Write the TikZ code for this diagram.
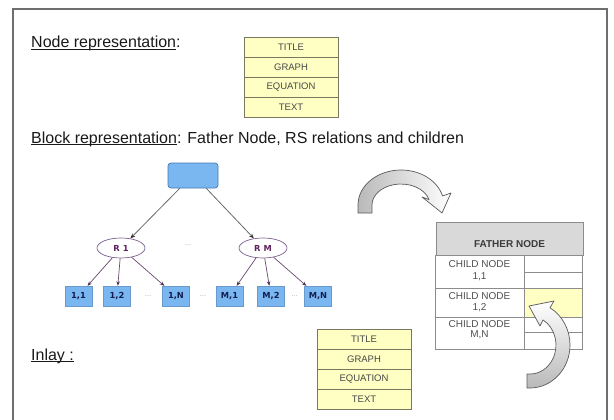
\documentclass[tikz,border=0pt]{standalone}
\usepackage{fontspec}
\setmainfont{Liberation Sans}
\newfontfamily\treefont{DejaVu Sans}
\usetikzlibrary{shapes.geometric,arrows.meta}

\definecolor{framegray}{RGB}{110,110,110}
\definecolor{inktext}{RGB}{25,25,25}
\definecolor{paleyellow}{RGB}{255,255,196}
\definecolor{yellowedge}{RGB}{120,120,95}
\definecolor{boxblue}{RGB}{122,182,240}
\definecolor{boxedge}{RGB}{70,120,180}
\definecolor{relpurple}{RGB}{125,95,145}
\definecolor{reltext}{RGB}{95,35,95}
\definecolor{leafink}{RGB}{20,30,80}
\definecolor{edgegray}{RGB}{105,105,105}
\definecolor{edgepurple}{RGB}{105,70,110}
\definecolor{tablegray}{RGB}{140,140,140}
\definecolor{headgray}{RGB}{217,217,217}
\definecolor{celltext}{RGB}{80,80,80}
\definecolor{bendfill}{RGB}{185,185,185}
\definecolor{bendedge}{RGB}{90,90,90}

\newcommand{\fsz}[2]{\fontsize{#1}{#2}\selectfont}
% underline drawn just below the baseline
\newcommand{\ulin}[1]{\setbox0\hbox{#1}\rlap{\raisebox{-2pt}{\rule{\wd0}{0.9pt}}}\box0}

\begin{document}
\begin{tikzpicture}[x=1pt,y=-1pt,
  heading/.style={anchor=base west,inner sep=0pt,text=inktext,font=\fsz{16}{19}},
  layer/.style={draw=yellowedge,line width=0.8pt,fill=paleyellow,minimum width=94pt,
    minimum height=20pt,inner sep=0pt,text=inktext!80,font=\fsz{9.5}{11}},
  father/.style={draw=boxedge,fill=boxblue,rounded corners=3pt,minimum width=50pt,
    minimum height=25pt,inner sep=0pt,line width=0.7pt},
  relation/.style={ellipse,draw=relpurple,fill=white,minimum width=48pt,minimum height=20pt,
    inner sep=0pt,line width=0.7pt,text=reltext,font=\treefont\bfseries\fsz{8.3}{10}},
  leaf/.style={draw=boxblue!85!black,fill=boxblue,minimum width=27pt,minimum height=20pt,
    inner sep=0pt,line width=0.4pt,text=leafink,font=\treefont\bfseries\fsz{8.3}{10}},
  gap/.style={text=gray!70,font=\fsz{7.5}{8},inner sep=0pt},
  toplink/.style={draw=edgegray,line width=0.8pt,-{Stealth[length=5pt,width=4pt,black!80]}},
  leaflink/.style={draw=edgepurple,line width=0.7pt,-{Stealth[length=4.5pt,width=3.5pt,edgepurple!70!black]}},
  cell/.style={draw=tablegray,line width=0.7pt,fill=white,inner sep=0pt},
  celltxt/.style={inner sep=0pt,align=center,text=celltext,font=\fsz{10}{11.7}},
  bandarrow/.style={draw=bendedge,line width=0.7pt,line join=round}
]
\useasboundingbox (0,0) rectangle (614,420);

% outer frame
\draw[framegray,line width=1.4pt] (13,420) -- (13,9) -- (607,9) -- (607,420);

% section headings
\node[heading] (hnode) at (31,48) {\ulin{Node representation}:};
\node[heading] (hblock) at (31,143) {\ulin{Block representation}: Father Node, RS relations and children};
\node[heading] (hinlay) at (31,360) {\ulin{Inlay :}};

% node representation
\node[layer] (ntitle) at (291,47) {TITLE};
\node[layer] (ngraph) at (291,67) {GRAPH};
\node[layer] (neq)    at (291,87) {EQUATION};
\node[layer] (ntext)  at (291,107) {TEXT};

% block tree
\node[father] (root) at (193,175.5) {};
\node[relation] (r1) at (121,248) {R 1};
\node[relation] (rm) at (263,248) {R M};
\node[gap] (dr) at (188,245) {...};

\node[leaf] (c11) at (78.5,296) {1,1};
\node[leaf] (c12) at (117,296) {1,2};
\node[leaf] (c1n) at (176,296) {1,N};
\node[leaf] (cm1) at (229.5,296) {M,1};
\node[leaf] (cm2) at (271,296) {M,2};
\node[leaf] (cmn) at (318,296) {M,N};
\node[gap] (d1) at (148,296) {...};
\node[gap] (d2) at (203,296) {...};
\node[gap] (d3) at (294.5,296) {...};

\draw[toplink] (root.224) -- (r1);
\draw[toplink] (root.316) -- (rm);
\foreach \c in {c11,c12,c1n} \draw[leaflink] (r1) -- (\c);
\foreach \c in {cm1,cm2,cmn} \draw[leaflink] (rm) -- (\c);

% father node table
\node[cell,fill=headgray,minimum width=147pt,minimum height=33pt] (fhead) at (509.5,238.5) {};
\node[celltxt,font=\bfseries\fsz{10}{12},text=inktext!85] (fheadtxt) at (509.5,244) {FATHER NODE};
\node[cell,minimum width=89pt,minimum height=33pt] (ch1) at (479.5,271.5) {};
\node[cell,minimum width=89pt,minimum height=29pt] (ch2) at (479.5,302.5) {};
\node[cell,minimum width=89pt,minimum height=32pt] (ch3) at (479.5,333) {};
\node[celltxt] (ch1txt) at (479.5,270.5) {CHILD NODE\\1,1};
\node[celltxt] (ch2txt) at (479.5,302) {CHILD NODE\\1,2};
\node[celltxt,font=\fsz{10}{10}] (ch3txt) at (479.5,329.5) {CHILD NODE\\M,N};
\node[cell,minimum width=58pt,minimum height=17pt] (s1a) at (553,263.5) {};
\node[cell,minimum width=58pt,minimum height=16pt] (s1b) at (553,280) {};
\node[cell,fill=paleyellow,minimum width=58pt,minimum height=29pt] (s2) at (553,302.5) {};
\node[cell,minimum width=58pt,minimum height=15pt] (s3a) at (553,324.5) {};
\node[cell,minimum width=58pt,minimum height=17pt] (s3b) at (553,340.5) {};

% inlay
\node[layer] (ititle) at (364,339) {TITLE};
\node[layer] (igraph) at (364,359) {GRAPH};
\node[layer] (ieq)    at (364,379) {EQUATION};
\node[layer] (itext)  at (364,399) {TEXT};

% curved block arrow from the tree to the table
\path[bandarrow,left color=bendfill,right color=white]
  (358,213) -- (358,205) arc[start angle=180,end angle=345,x radius=43,y radius=35]
  -- (451,193) -- (442,213) -- (422,197) -- (429,199.6)
  arc[start angle=345,end angle=180,x radius=29,y radius=21] -- (372,213) -- cycle;

% curved block arrow into the table cell
\path[bandarrow,top color=white,bottom color=bendfill]
  (527,388) -- (530,388) arc[start angle=90,end angle=-60,x radius=40,y radius=43]
  -- (554,301) -- (529,306) -- (540,326) -- (543,319.9)
  arc[start angle=-60,end angle=90,x radius=26,y radius=29] -- (527,374) -- cycle;
\end{tikzpicture}
\end{document}
